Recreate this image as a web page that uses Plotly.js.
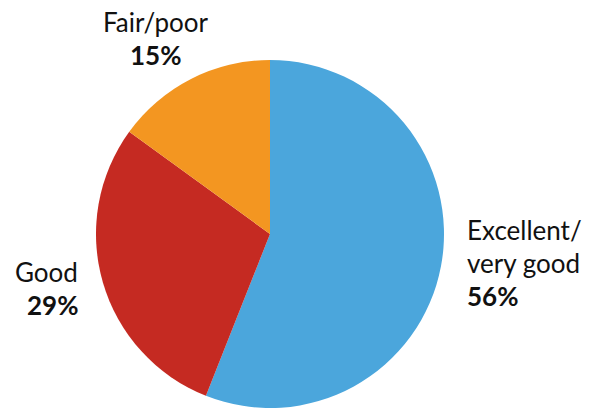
<!DOCTYPE html>
<html>
<head>
<meta charset="utf-8">
<script src="https://cdn.plot.ly/plotly-3.0.1.min.js"></script>
<style>html,body{margin:0;padding:0;background:#fff}#chart{width:592px;height:408px}</style>
</head>
<body>
<div id="chart"></div>
<script>
const categories = ["Excellent/very good", "Good", "Fair/poor"];
const labelLines = [["Excellent/", "very good"], ["Good"], ["Fair/poor"]];
const values = [56, 29, 15];
const colors = ["#4BA6DC", "#C52A22", "#F39621"];

// label placement (pixels in the 592x408 frame): x, first-line y, anchor
const labelPos = [
  {x: 465, y: 230, anchor: "left"},
  {x: 80, y: 272, anchor: "right"},
  {x: 155, y: 22, anchor: "center"}
];
const W = 592, H = 408, LH = 33;
const font = "Lato, 'Open Sans', sans-serif";

const annotations = [];
categories.forEach((c, i) => {
  const p = labelPos[i];
  const lines = labelLines[i].concat(["<b>" + values[i] + "%</b>"]);
  lines.forEach((t, j) => {
    annotations.push({
      xref: "paper", yref: "paper",
      x: p.x / W, y: 1 - (p.y + j * LH) / H,
      xanchor: p.anchor, yanchor: "middle",
      text: t, showarrow: false,
      font: {family: font, size: 26, color: "#111"}
    });
  });
});

const data = [{
  type: "pie",
  labels: categories,
  values: values,
  sort: false,
  direction: "clockwise",
  rotation: 0,
  marker: {colors: colors, line: {width: 0}},
  textinfo: "none",
  hoverinfo: "skip",
  showlegend: false,
  domain: {x: [95 / W, 445 / W], y: [0, 1 - 60 / H]}
}];

const layout = {
  width: W, height: H,
  margin: {l: 0, r: 0, t: 0, b: 0},
  paper_bgcolor: "#fff",
  showlegend: false,
  annotations: annotations
};

Plotly.newPlot("chart", data, layout, {displayModeBar: false, staticPlot: true});
</script>
</body>
</html>
